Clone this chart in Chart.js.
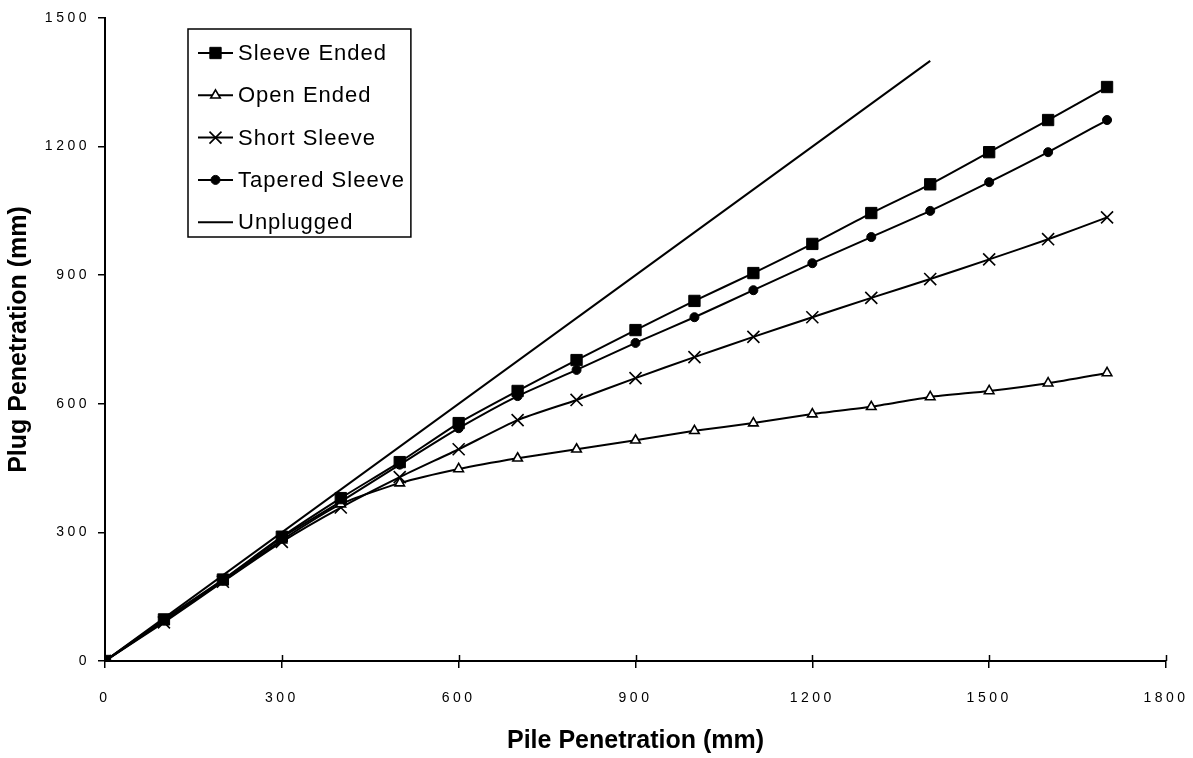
<!DOCTYPE html>
<html>
<head>
<meta charset="utf-8">
<script src="https://cdn.jsdelivr.net/npm/chart.js@4"></script>
<style>
  body { margin: 0; background: #fff; }
  #wrap { width: 1193px; height: 758px; }
</style>
</head>
<body>
<div id="wrap"><canvas id="grafico"></canvas></div>
<script>
// pile penetration (mm) - shared by all tested piles
const pile = [0, 100, 200, 300, 400, 500, 600, 700, 800, 900, 1000, 1100, 1200, 1300, 1400, 1500, 1600, 1700];

// plug penetration (mm)
const sleeveEnded   = [0, 97, 190, 290, 380, 464, 555, 630, 702, 772, 840, 905, 973, 1045, 1112, 1187, 1262, 1339];
const openEnded     = [0, 93, 186, 282, 366, 415, 448, 473, 494, 515, 537, 555, 576, 593, 616, 630, 648, 672];
const shortSleeve   = [0, 90, 185, 278, 358, 429, 494, 562, 609, 660, 709, 756, 802, 847, 891, 937, 984, 1035];
const taperedSleeve = [0, 95, 188, 288, 372, 458, 543, 618, 679, 742, 802, 865, 928, 989, 1050, 1117, 1187, 1262];

// unplugged reference line
const unpluggedX = [0, 1400];
const unpluggedY = [0, 1400];

const xTicks = [0, 300, 600, 900, 1200, 1500, 1800];
const yTicks = [0, 300, 600, 900, 1200, 1500];

const FONTE = "'Liberation Sans', Arial, sans-serif";

function pares(xs, ys) {
  return xs.map((x, i) => ({ x, y: ys[i] }));
}

const base = {
  borderColor: '#000',
  borderWidth: 2,
  tension: 0.2,
  pointBorderColor: '#000',
  fill: false
};

const datasets = [
  { ...base, label: 'Sleeve Ended', data: pares(pile, sleeveEnded),
    pointStyle: 'rect', pointRadius: 8, pointBackgroundColor: '#000', pointBorderWidth: 1 },
  { ...base, label: 'Open Ended', data: pares(pile, openEnded),
    pointStyle: 'triangle', pointRadius: 5.5, pointBackgroundColor: '#fff', pointBorderWidth: 1.6 },
  { ...base, label: 'Short Sleeve', data: pares(pile, shortSleeve),
    pointStyle: 'crossRot', pointRadius: 8.5, pointBackgroundColor: '#000', pointBorderWidth: 1.6 },
  { ...base, label: 'Tapered Sleeve', data: pares(pile, taperedSleeve),
    pointStyle: 'circle', pointRadius: 4.5, pointBackgroundColor: '#000', pointBorderWidth: 1 },
  { ...base, label: 'Unplugged', data: pares(unpluggedX, unpluggedY),
    pointRadius: 0, tension: 0 }
];

// espaçamento entre letras nos rótulos dos eixos
const espacamento = {
  id: 'espacamento',
  beforeDraw(chart) {
    chart.ctx.letterSpacing = '3.5px';
  },
  afterDraw(chart) {
    const ctx = chart.ctx;
    const { left, right, top, bottom } = chart.chartArea;
    ctx.save();
    ctx.letterSpacing = '0px';

    // parte interna das marcas do eixo x
    ctx.strokeStyle = '#000';
    ctx.lineWidth = 1.5;
    const sx = chart.scales.x;
    xTicks.forEach(v => {
      const px = Math.round(sx.getPixelForValue(v)) + 0.5;
      ctx.beginPath();
      ctx.moveTo(px, bottom - 6);
      ctx.lineTo(px, bottom);
      ctx.stroke();
    });

    // títulos dos eixos
    ctx.fillStyle = '#000';
    ctx.font = `bold 25px ${FONTE}`;
    ctx.textAlign = 'center';
    ctx.textBaseline = 'middle';
    ctx.fillText('Pile Penetration (mm)', (left + right) / 2, 741);
    ctx.translate(19, (top + bottom) / 2);
    ctx.rotate(-Math.PI / 2);
    ctx.fillText('Plug Penetration (mm)', 0, 0);
    ctx.restore();

    // legenda
    ctx.save();
    ctx.letterSpacing = '1px';
    ctx.font = `22px ${FONTE}`;
    const bx = 188, by = 29, textoX = 238, linha = 42.3, y0 = 53;
    const larguras = chart.data.datasets.map(d => ctx.measureText(d.label).width);
    const bw = textoX + Math.max(...larguras) + 6 - bx;
    ctx.fillStyle = '#fff';
    ctx.fillRect(bx, by, bw, 208);
    ctx.strokeStyle = '#000';
    ctx.lineWidth = 1.5;
    ctx.strokeRect(bx, by, bw, 208);
    chart.data.datasets.forEach((d, i) => {
      const yy = y0 + i * linha;
      ctx.strokeStyle = '#000';
      ctx.lineWidth = 2;
      ctx.beginPath();
      ctx.moveTo(198, yy);
      ctx.lineTo(233, yy);
      ctx.stroke();
      if (d.pointRadius > 0) {
        ctx.fillStyle = d.pointBackgroundColor;
        ctx.strokeStyle = '#000';
        ctx.lineWidth = d.pointBorderWidth;
        Chart.helpers.drawPoint(ctx, {
          pointStyle: d.pointStyle,
          radius: d.pointRadius,
          rotation: 0,
          borderWidth: d.pointBorderWidth
        }, 215.5, yy);
      }
      ctx.fillStyle = '#000';
      ctx.textAlign = 'left';
      ctx.textBaseline = 'middle';
      ctx.fillText(d.label, textoX, yy + 1);
    });
    ctx.restore();
  }
};

const ctx = document.getElementById('grafico').getContext('2d');
new Chart(ctx, {
  type: 'line',
  data: { datasets },
  plugins: [espacamento],
  options: {
    responsive: true,
    maintainAspectRatio: false,
    animation: false,
    layout: { padding: { top: 18, right: 27, left: 0, bottom: 0 } },
    plugins: {
      legend: { display: false },
      tooltip: { enabled: false }
    },
    scales: {
      x: {
        type: 'linear',
        min: 0,
        max: 1800,
        afterFit(scale) {
          scale.height = 97;
          scale.paddingLeft = 0;
          scale.paddingRight = 0;
        },
        afterBuildTicks(scale) { scale.ticks = xTicks.map(value => ({ value })); },
        grid: { drawOnChartArea: false, color: '#000', lineWidth: 1.5, tickLength: 7 },
        border: { color: '#000', width: 2 },
        ticks: { color: '#000', font: { family: FONTE, size: 14 }, padding: 22, maxRotation: 0,
          callback: v => String(v) }
      },
      y: {
        type: 'linear',
        min: 0,
        max: 1500,
        afterFit(scale) {
          scale.width = 105;
          scale.paddingTop = 0;
          scale.paddingBottom = 0;
        },
        afterBuildTicks(scale) { scale.ticks = yTicks.map(value => ({ value })); },
        grid: { drawOnChartArea: false, color: '#000', lineWidth: 1.5, tickLength: 7 },
        border: { color: '#000', width: 2 },
        ticks: { color: '#000', font: { family: FONTE, size: 14 }, padding: 8,
          callback: v => String(v) }
      }
    }
  }
});
</script>
</body>
</html>
